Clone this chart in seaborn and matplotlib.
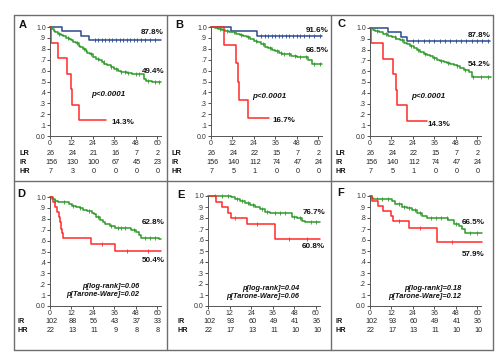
import numpy as np
import matplotlib
matplotlib.use("Agg")
import matplotlib.pyplot as plt
import matplotlib.transforms as mtransforms
from matplotlib.lines import Line2D
import seaborn as sns

# ---------------- data ----------------
months_ticks = [0, 12, 24, 36, 48, 60]
ytick_vals = [0.0, 0.1, 0.2, 0.3, 0.4, 0.5, 0.6, 0.7, 0.8, 0.9, 1.0]
ytick_labels = ["0.0", ".1", ".2", ".3", ".4", ".5", ".6", ".7", ".8", ".9", "1.0"]

# Panel A
A_blue_t = [0, 6.5, 17.5, 22]
A_blue_s = [1.0, 0.96, 0.92, 0.878]
A_blue_c = [25, 27, 29, 31, 33, 35, 37, 39, 41, 43, 45, 47, 49, 51, 53, 56, 59]
A_green_t = [0, 1, 2, 3, 4.5, 6, 7.5, 9, 10.5, 12, 13, 14.5, 16, 17, 18.5, 20, 21, 22.5, 24, 26,
             27.5, 29, 30.5, 32, 34, 36, 38, 40, 43, 46, 52.5, 54, 57]
A_green_s = [1.0, 0.98, 0.965, 0.95, 0.94, 0.925, 0.915, 0.90, 0.89, 0.878, 0.865, 0.85, 0.83, 0.815,
             0.80, 0.78, 0.765, 0.75, 0.725, 0.71, 0.70, 0.68, 0.665, 0.65, 0.635, 0.615, 0.60, 0.59,
             0.578, 0.567, 0.52, 0.505, 0.494]
A_green_c = [5, 10, 15, 19, 23, 27, 30, 34, 37, 40, 42, 44, 48, 50, 55, 59, 61]
A_red_t = [0, 0.5, 4.5, 9.8, 11.5, 12.6, 16.3]
A_red_s = [1.0, 0.857, 0.714, 0.571, 0.429, 0.286, 0.143]
A_LR = [26, 24, 21, 16, 7, 2]
A_IR = [156, 130, 100, 67, 45, 23]
A_HR = [7, 3, 0, 0, 0, 0]

# Panel B
B_blue_t = [0, 11.3, 26]
B_blue_s = [1.0, 0.96, 0.916]
B_blue_c = [28, 30, 32, 34, 36, 38, 40, 42, 44, 46, 48, 50, 52, 55, 58, 61]
B_green_t = [0, 2, 4, 6, 8, 10, 12, 14, 16, 18, 20, 22, 24, 26, 28, 30, 32, 34, 36, 38, 40, 42, 45,
             48, 54.5, 56.5]
B_green_s = [1.0, 0.99, 0.98, 0.975, 0.966, 0.958, 0.95, 0.94, 0.93, 0.92, 0.905, 0.89, 0.875, 0.86,
             0.84, 0.82, 0.81, 0.79, 0.78, 0.765, 0.755, 0.748, 0.738, 0.728, 0.70, 0.665]
B_green_c = [5, 9, 13, 17, 21, 25, 29, 33, 37, 39, 41, 44, 47, 50, 53, 58, 61]
B_red_t = [0, 7.5, 13.9, 14.9, 15.8, 20.9]
B_red_s = [1.0, 0.833, 0.667, 0.5, 0.333, 0.167]
B_LR = [26, 24, 22, 15, 7, 2]
B_IR = [156, 140, 112, 74, 47, 24]
B_HR = [7, 5, 1, 0, 0, 0]

# Panel C
C_blue_t = [0, 10.3, 17.4, 21]
C_blue_s = [1.0, 0.96, 0.92, 0.878]
C_blue_c = [24, 27, 30, 33, 36, 39, 42, 45, 48, 51, 54, 57, 60, 63, 66]
C_green_t = [0, 1.5, 2.8, 5, 7.5, 10, 12.2, 14.5, 16.9, 19, 21, 22.5, 24.5, 26.3, 28, 30, 32,
             33.8, 35.5, 37.5, 39.5, 41.3, 43, 45, 47, 48.8, 50.5, 52.5, 55.3, 57.2]
C_green_s = [1.0, 0.985, 0.97, 0.96, 0.947, 0.93, 0.916, 0.9, 0.885, 0.865, 0.85, 0.83, 0.815,
             0.80, 0.78, 0.76, 0.75, 0.737, 0.72, 0.706, 0.695, 0.687, 0.676, 0.666, 0.655, 0.644,
             0.63, 0.613, 0.588, 0.542]
C_green_c = [4, 9, 14, 18, 23, 27, 31, 36, 40, 44, 49, 53, 58, 62, 66]
C_red_t = [0, 0.4, 7.1, 13.1, 14.3, 15.4, 20.6]
C_red_s = [1.0, 0.857, 0.714, 0.571, 0.429, 0.286, 0.143]
C_LR = [26, 24, 22, 15, 7, 2]
C_IR = [156, 140, 112, 74, 47, 24]
C_HR = [7, 5, 1, 0, 0, 0]

# Panel D
D_green_t = [0, 0.9, 2.8, 4.7, 10.5, 12.1, 14.5, 16.8, 18.5, 20.5, 23.3, 24.8, 26, 28, 29.5,
             30.7, 33.5, 36.3, 45.7, 48.4, 50, 51.2, 61]
D_green_s = [1.0, 0.98, 0.966, 0.957, 0.94, 0.92, 0.905, 0.896, 0.885, 0.875, 0.856, 0.84, 0.82,
             0.79, 0.77, 0.752, 0.737, 0.72, 0.70, 0.68, 0.655, 0.628, 0.612]
D_green_c = [3, 8, 13, 17, 22, 27, 34, 38, 40, 42, 47, 53, 56, 59]
D_red_t = [0, 1.5, 2.8, 4.2, 5, 5.6, 6.1, 6.7, 7.5, 23.1, 36.7]
D_red_s = [1.0, 0.955, 0.91, 0.865, 0.82, 0.774, 0.71, 0.667, 0.62, 0.565, 0.504]
D_red_c = [29, 43, 55]
D_IR = [102, 88, 56, 43, 37, 33]
D_HR = [22, 13, 11, 9, 8, 8]

# Panel E
E_green_t = [0, 13, 14.9, 17.7, 20.5, 23.3, 26, 28.9, 31.7, 34.5, 46.6, 49.4, 52.2, 54]
E_green_s = [1.0, 0.988, 0.97, 0.955, 0.933, 0.918, 0.897, 0.879, 0.858, 0.848, 0.812, 0.803,
             0.776, 0.767]
E_green_c = [4, 8, 11, 16, 19, 22, 25, 30, 33, 37, 40, 43, 48, 51, 57, 60]
E_red_t = [0, 4.3, 8, 11.2, 13, 21.4, 37.3]
E_red_s = [1.0, 0.95, 0.90, 0.85, 0.80, 0.745, 0.608]
E_red_c = [15, 27, 45, 55]
E_IR = [102, 93, 60, 49, 41, 36]
E_HR = [22, 17, 13, 11, 10, 10]

# Panel F
F_green_t = [0, 0.9, 1.9, 12.2, 14, 17.8, 20.6, 23.4, 26.3, 29, 31.9, 44, 46.9, 49.7, 51.6, 53.4]
F_green_s = [1.0, 0.98, 0.97, 0.955, 0.924, 0.903, 0.894, 0.873, 0.842, 0.82, 0.797, 0.78, 0.75,
             0.73, 0.70, 0.665]
F_green_c = [4, 7, 10, 16, 19, 22, 25, 28, 34, 37, 40, 43, 48, 56, 60]
F_red_t = [0, 0.9, 4.3, 7.5, 11.8, 13.1, 21.9, 37.5]
F_red_s = [1.0, 0.955, 0.909, 0.864, 0.818, 0.773, 0.71, 0.579]
F_red_c = [16, 28, 46]
F_IR = [102, 93, 60, 49, 41, 36]
F_HR = [22, 17, 13, 11, 10, 10]

BLUE = "#2b4a8e"
GREEN = "#2f9a2a"
RED = "#ff2a2a"

# ---------------- figure ----------------
sns.set_theme(style="white")
plt.rcParams["font.family"] = ["Liberation Sans", "DejaVu Sans"]
plt.rcParams["axes.linewidth"] = 0.7

W, H = 500, 356
fig = plt.figure(figsize=(5.0, 3.56), dpi=100)
fig.patch.set_facecolor("white")


def fx(px):
    return px / W


def fy(py):
    return 1 - py / H


def make_axes(x0, x60, y1, y0, xmax=62):
    w = (x60 - x0) * xmax / 60.0
    ax = fig.add_axes([fx(x0), fy(y0), w / W, (y0 - y1) / H])
    ax.set_facecolor("none")
    ax.set_xlim(0, xmax)
    ax.set_ylim(0, 1.0)
    for s in ["top", "right"]:
        ax.spines[s].set_visible(False)
    for s in ["left", "bottom"]:
        ax.spines[s].set_color("#555555")
        ax.spines[s].set_linewidth(0.7)
    ax.set_xticks(months_ticks)
    ax.set_xticklabels([str(m) for m in months_ticks])
    ax.set_yticks(ytick_vals)
    ax.set_yticklabels(ytick_labels)
    ax.tick_params(axis="both", length=2, width=0.6, pad=1, labelsize=5,
                   colors="#333333", left=True, bottom=True)
    ax.grid(False)
    return ax


def curve(ax, t, s, end, color, cens=None):
    xs = list(t) + [end]
    ys = list(s) + [s[-1]]
    sns.lineplot(x=xs, y=ys, drawstyle="steps-post", color=color, linewidth=1.1,
                 ax=ax, estimator=None, sort=False, clip_on=False, legend=False)
    if cens:
        idx = np.searchsorted(np.asarray(t), np.asarray(cens), side="right") - 1
        cy = np.asarray(s)[idx]
        sns.scatterplot(x=cens, y=cy, marker="|", s=6, color=color, linewidth=0.6,
                        ax=ax, clip_on=False, legend=False, zorder=3)


def ftext(px, py, txt, ha="left", size=5.8, weight="bold", style="normal"):
    fig.text(fx(px), fy(py), txt, ha=ha, va="center", fontsize=size,
             fontweight=weight, fontstyle=style, color="#111111")


def table(ax, rows, label_x):
    tr = mtransforms.blended_transform_factory(ax.transData, fig.transFigure)
    for name, vals, py in rows:
        ftext(label_x, py, name, ha="left", size=5.2, weight="bold")
        for m, v in zip(months_ticks, vals):
            ax.text(m + 0.6, fy(py), str(v), transform=tr, ha="center", va="center",
                    fontsize=5.2, color="#222222", clip_on=False)


# Panel A
axA = make_axes(50, 157, 27, 136)
curve(axA, A_blue_t, A_blue_s, 62.5, BLUE, A_blue_c)
curve(axA, A_green_t, A_green_s, 62.5, GREEN, A_green_c)
curve(axA, A_red_t, A_red_s, 31.5, RED)
ftext(19, 25, "A", size=8)
ftext(164, 32, "87.8%", ha="right")
ftext(164, 71.5, "49.4%", ha="right")
ftext(111, 123, "14.3%")
ftext(91, 95, "p<0.0001", style="italic")
table(axA, [("LR", A_LR, 153.5), ("IR", A_IR, 162.5), ("HR", A_HR, 171.5)], 19)

# Panel B
axB = make_axes(211, 318, 27, 136)
curve(axB, B_blue_t, B_blue_s, 62.5, BLUE, B_blue_c)
curve(axB, B_green_t, B_green_s, 62.3, GREEN, B_green_c)
curve(axB, B_red_t, B_red_s, 32.5, RED)
ftext(175, 25, "B", size=8)
ftext(329, 30, "91.6%", ha="right")
ftext(329, 50.5, "66.5%", ha="right")
ftext(272, 121, "16.7%")
ftext(252, 96, "p<0.0001", style="italic")
table(axB, [("LR", B_LR, 153.5), ("IR", B_IR, 162.5), ("HR", B_HR, 171.5)], 172)

# Panel C
axC = make_axes(370, 477, 28, 136)
curve(axC, C_blue_t, C_blue_s, 67.5, BLUE, C_blue_c)
curve(axC, C_green_t, C_green_s, 67.8, GREEN, C_green_c)
curve(axC, C_red_t, C_red_s, 31.9, RED)
ftext(337, 24, "C", size=8)
ftext(491, 35.5, "87.8%", ha="right")
ftext(491, 64.5, "54.2%", ha="right")
ftext(427, 124, "14.3%")
ftext(411, 97, "p<0.0001", style="italic")
table(axC, [("LR", C_LR, 153.5), ("IR", C_IR, 162.5), ("HR", C_HR, 171.5)], 336)

# Panel D
axD = make_axes(50, 157, 197, 306)
curve(axD, D_green_t, D_green_s, 62, GREEN, D_green_c)
curve(axD, D_red_t, D_red_s, 62, RED, D_red_c)
ftext(17, 194, "D", size=8)
ftext(165, 222, "62.8%", ha="right")
ftext(165, 260, "50.4%", ha="right")
ftext(139, 287, "p[log-rank]=0.06", ha="right", size=5.3, style="italic")
ftext(139, 295, "p[Tarone-Ware]=0.02", ha="right", size=5.3, style="italic")
table(axD, [("IR", D_IR, 321.5), ("HR", D_HR, 330)], 17)

# Panel E
axE = make_axes(208, 316, 196, 306)
curve(axE, E_green_t, E_green_s, 62.4, GREEN, E_green_c)
curve(axE, E_red_t, E_red_s, 62.4, RED, E_red_c)
ftext(177, 195, "E", size=8)
ftext(325, 212, "76.7%", ha="right")
ftext(325, 247, "60.8%", ha="right")
ftext(299, 288, "p[log-rank]=0.04", ha="right", size=5.3, style="italic")
ftext(299, 296, "p[Tarone-Ware]=0.06", ha="right", size=5.3, style="italic")
table(axE, [("IR", E_IR, 321.5), ("HR", E_HR, 330)], 177)

# Panel F
axF = make_axes(370, 477, 196, 306)
curve(axF, F_green_t, F_green_s, 62.8, GREEN, F_green_c)
curve(axF, F_red_t, F_red_s, 62.8, RED, F_red_c)
ftext(337, 193, "F", size=8)
ftext(485, 222, "66.5%", ha="right")
ftext(485, 255, "57.9%", ha="right")
ftext(461, 288, "p[log-rank]=0.18", ha="right", size=5.3, style="italic")
ftext(461, 296, "p[Tarone-Ware]=0.12", ha="right", size=5.3, style="italic")
table(axF, [("IR", F_IR, 321.5), ("HR", F_HR, 330)], 336)

# frame lines
frame_col = "#6e6e6e"
L, R, T, B = 14, 493, 15, 350
for xs, ys in [([L, R], [T, T]), ([L, R], [B, B]), ([L, L], [T, B]), ([R, R], [T, B]),
               ([L, R], [181, 181]), ([167, 167], [T, B]), ([331, 331], [T, B])]:
    fig.add_artist(Line2D([fx(v) for v in xs], [fy(v) for v in ys], color=frame_col,
                          linewidth=1.0, transform=fig.transFigure))

fig.savefig("out.png", dpi=100, facecolor="white")
